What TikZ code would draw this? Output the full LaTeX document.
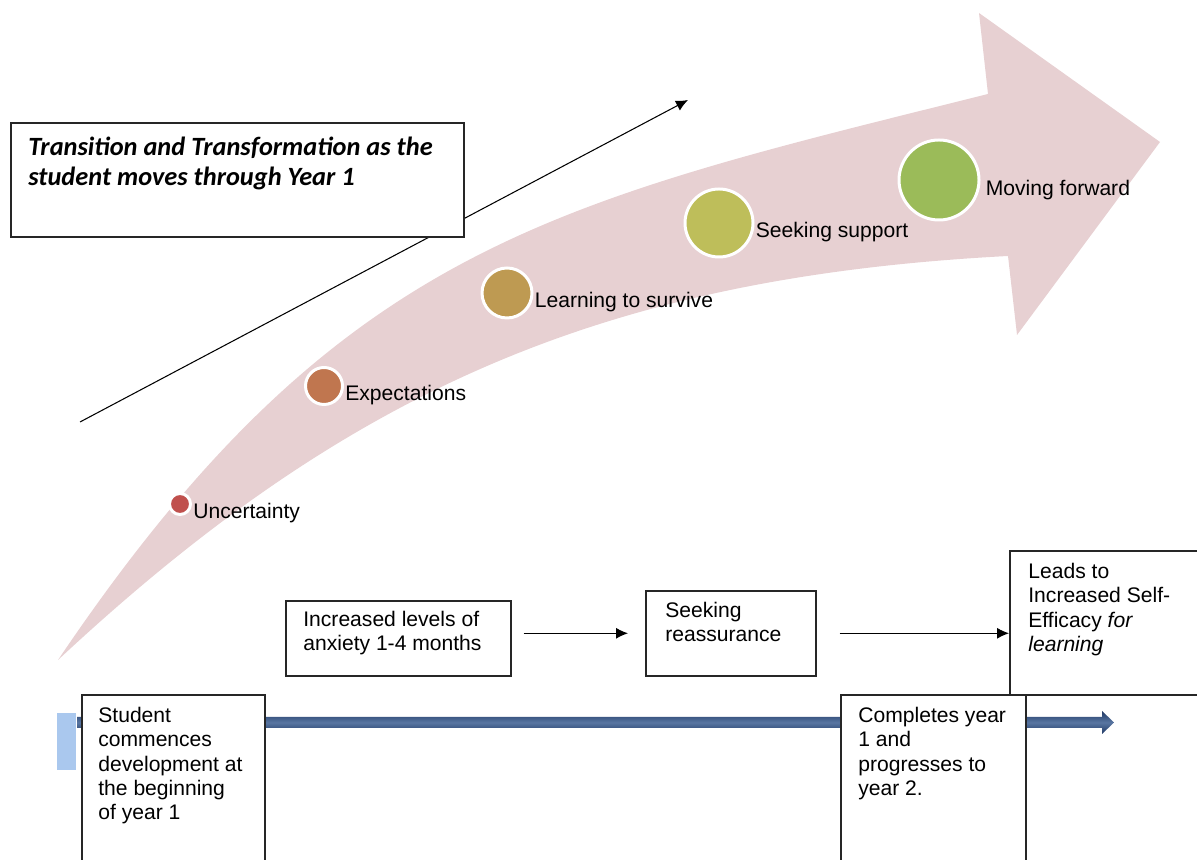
\documentclass[tikz,border=0pt]{standalone}
\usepackage{fontspec}
\setmainfont{Liberation Sans}
\newfontfamily\titlefont{Carlito}
\usetikzlibrary{positioning,arrows.meta}
\definecolor{arrowpink}{RGB}{231,208,210}
\definecolor{unccol}{RGB}{192,80,77}
\definecolor{expcol}{RGB}{192,118,79}
\definecolor{lrncol}{RGB}{190,154,82}
\definecolor{seekcol}{RGB}{190,190,90}
\definecolor{movecol}{RGB}{155,187,89}
\definecolor{tldark}{RGB}{32,56,100}
\definecolor{tlmid}{RGB}{88,118,162}
\definecolor{tlstart}{RGB}{170,200,238}
\begin{document}
\begin{tikzpicture}[>={Latex[length=2.4mm,width=2.2mm]},font=\fontsize{12}{13.8}\selectfont,
	box/.style={draw=black!85,line width=0.9pt,fill=white,inner sep=0,anchor=north west},
	boxtext/.style={anchor=north west,inner sep=0,align=left},
	stage/.style={circle,draw=white,line width=1.7pt,inner sep=0},
	stagelabel/.style={inner sep=0,anchor=west}]
	\useasboundingbox (0,0) rectangle (23.94,17.18);
	\fill[arrowpink] (1.16,3.98) .. controls (6.75,12.27) and (11.03,13.12) .. (19.76,15.3)
		-- (19.58,16.92) -- (23.2,14.34) -- (20.34,10.48) -- (20.16,12.06)
		.. controls (12.17,11.64) and (7.01,9.44) .. (1.16,3.98) -- cycle;
	\coordinate (riseStart) at (1.6,8.74);
	\coordinate (riseEnd) at (13.76,15.18);
	\draw[->,line width=0.6pt] (riseStart)--(riseEnd);
	\node[box,minimum width=9.06cm,minimum height=2.28cm] (title) at (0.2,14.74) {};
	\node[boxtext,font=\titlefont\fontsize{15}{17}\selectfont\bfseries\itshape] (titletext) at ([shift={(0.36,-0.3)}]title.north west) {Transition and Transformation as the\\student moves through Year 1};
	\node[stage,fill=unccol,minimum size=0.42cm] (unc) at (3.6,7.1) {};
	\node[stagelabel,right=0.02cm of unc,yshift=-0.18cm] (unclbl) {Uncertainty};
	\node[stage,fill=expcol,minimum size=0.74cm] (exp) at (6.48,9.46) {};
	\node[stagelabel,right=0.02cm of exp,yshift=-0.18cm] (explbl) {Expectations};
	\node[stage,fill=lrncol,minimum size=1cm] (lrn) at (10.14,11.32) {};
	\node[stagelabel,right=0.02cm of lrn,yshift=-0.18cm] (lrnlbl) {Learning to survive};
	\node[stage,fill=seekcol,minimum size=1.36cm] (seek) at (14.38,12.72) {};
	\node[stagelabel,right=0.02cm of seek,yshift=-0.18cm] (seeklbl) {Seeking support};
	\node[stage,fill=movecol,minimum size=1.6cm] (move) at (18.78,13.58) {};
	\node[stagelabel,right=0.1cm of move,yshift=-0.2cm] (movelbl) {Moving forward};
	\fill[tlstart] (1.14,1.78) rectangle (1.52,2.92);
	\shade[top color=tldark,bottom color=tldark,middle color=tlmid] (1.54,2.84)--(22.04,2.84)--(22.04,2.96)--(22.28,2.73)--(22.04,2.5)--(22.04,2.62)--(1.54,2.62)--cycle;
	\node[box,minimum width=4.5cm,minimum height=1.5cm] (anx) at (5.7,5.18) {};
	\node[boxtext] (anxtext) at ([shift={(0.36,-0.22)}]anx.north west) {Increased levels of\\anxiety 1-4 months};
	\node[box,minimum width=3.4cm,minimum height=1.7cm] (reas) at (12.9,5.38) {};
	\node[boxtext] (reastext) at ([shift={(0.4,-0.24)}]reas.north west) {Seeking\\reassurance};
	\node[box,minimum width=4.2cm,minimum height=2.88cm] (leads) at (20.18,6.18) {};
	\node[boxtext] (leadstext) at ([shift={(0.38,-0.26)}]leads.north west) {Leads to\\Increased Self-\\Efficacy \textit{for}\\\textit{learning}};
	\node[box,minimum width=3.66cm,minimum height=3.8cm] (start) at (1.62,3.3) {};
	\node[boxtext] (starttext) at ([shift={(0.34,-0.26)}]start.north west) {Student\\commences\\development at\\the beginning\\of year 1};
	\node[box,minimum width=3.7cm,minimum height=3.8cm] (done) at (16.8,3.3) {};
	\node[boxtext] (donetext) at ([shift={(0.36,-0.26)}]done.north west) {Completes year\\1 and\\progresses to\\year 2.};
	\draw[->,line width=0.6pt,shorten <=0.24cm,shorten >=0.34cm] (reas.west -| anx.east)--(reas.west);
	\draw[->,line width=0.6pt,shorten <=0.46cm] (reas.east)--(reas.east -| leads.west);
\end{tikzpicture}
\end{document}
